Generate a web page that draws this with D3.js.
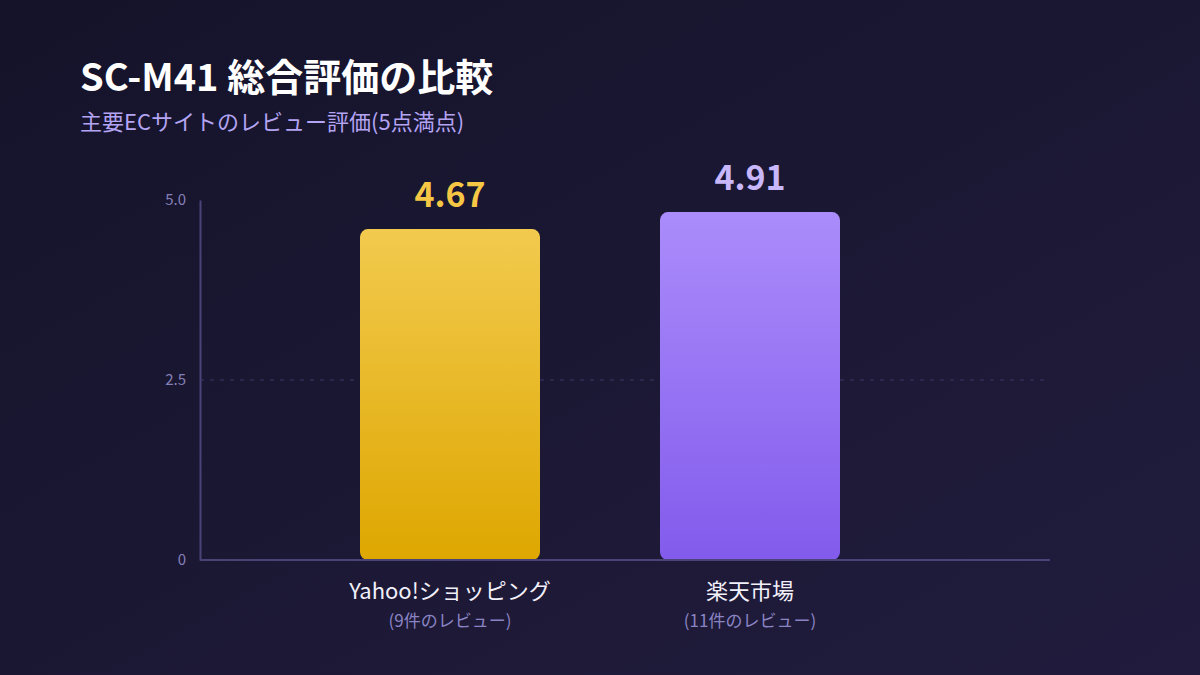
<!DOCTYPE html>
<html>
<head>
<meta charset="utf-8">
<script src="https://cdn.jsdelivr.net/npm/d3@7"></script>
<style>
  html, body { margin: 0; padding: 0; background: #17152b; }
  svg { display: block; font-family: "Noto Sans CJK JP", "Noto Sans", sans-serif; }
</style>
</head>
<body>
<svg id="chart" width="1200" height="675"></svg>
<script>
// Data
const sites = ["Yahoo!ショッピング", "楽天市場"];
const ratings = [4.67, 4.91];
const reviewCounts = ["(9件のレビュー)", "(11件のレビュー)"];
const tickValues = [0, 2.5, 5];
const tickLabels = ["0", "2.5", "5.0"];

const W = 1200, H = 675;
const svg = d3.select("#chart");
const defs = svg.append("defs");

// Background gradient
const bg = defs.append("linearGradient").attr("id", "bg")
  .attr("x1", "0").attr("y1", "0").attr("x2", "1").attr("y2", "1");
bg.append("stop").attr("offset", "0%").attr("stop-color", "#15132a");
bg.append("stop").attr("offset", "100%").attr("stop-color", "#211c3d");
svg.append("rect").attr("width", W).attr("height", H).attr("fill", "url(#bg)");

// Bar gradients
const barColors = [
  { id: "gYahoo", top: "#f2ca4e", bottom: "#dea700", label: "#f5c744" },
  { id: "gRakuten", top: "#ab8cfb", bottom: "#825bec", label: "#c8b8fb" }
];
barColors.forEach(c => {
  const g = defs.append("linearGradient").attr("id", c.id)
    .attr("x1", "0").attr("y1", "0").attr("x2", "0").attr("y2", "1");
  g.append("stop").attr("offset", "0%").attr("stop-color", c.top);
  g.append("stop").attr("offset", "100%").attr("stop-color", c.bottom);
});

// Title
svg.append("text")
  .attr("x", 80).attr("y", 91)
  .attr("font-size", "38px").attr("font-weight", "bold")
  .attr("fill", "#ffffff")
  .text("SC-M41 総合評価の比較");

svg.append("text")
  .attr("x", 80).attr("y", 130)
  .attr("font-size", "22px")
  .attr("fill", "#b3a4f4")
  .text("主要ECサイトのレビュー評価(5点満点)");

// Scales
const margin = { left: 200, right: 1050, top: 200, bottom: 560 };

const xScale = d3.scaleBand()
  .domain(sites)
  .range([300, 900])
  .paddingInner(0.4)
  .paddingOuter(0.2);

const yScale = d3.scaleLinear()
  .domain([0, 5])
  .range([margin.bottom, margin.top]);

// bars end a little short of the axis scale
const barScale = d3.scaleLinear()
  .domain([0, 5.08])
  .range([margin.bottom, margin.top]);

// Gridline at 2.5
svg.append("line")
  .attr("x1", margin.left).attr("x2", 1045)
  .attr("y1", yScale(2.5)).attr("y2", yScale(2.5))
  .attr("stroke", "#3c3663").attr("stroke-width", 1)
  .attr("stroke-dasharray", "4,6");

// Y axis
const yAxis = svg.append("g")
  .attr("transform", `translate(${margin.left},0)`)
  .call(d3.axisLeft(yScale).tickValues(tickValues)
    .tickFormat((d, i) => tickLabels[i]).tickSize(0).tickPadding(14));
yAxis.select(".domain").attr("stroke", "#4a4378").attr("stroke-width", 2);
yAxis.selectAll("text")
  .attr("fill", "#8680b8").attr("font-size", "15px")
  .style("font-family", "'Noto Sans CJK JP', 'Noto Sans', sans-serif");

// Bars
svg.selectAll("rect.bar")
  .data(ratings)
  .enter()
  .append("rect")
  .attr("class", "bar")
  .attr("x", (d, i) => xScale(sites[i]))
  .attr("y", d => barScale(d))
  .attr("width", xScale.bandwidth())
  .attr("height", d => margin.bottom - barScale(d))
  .attr("rx", 8).attr("ry", 8)
  .attr("fill", (d, i) => `url(#${barColors[i].id})`);

// X axis line
svg.append("line")
  .attr("x1", margin.left).attr("x2", margin.right)
  .attr("y1", margin.bottom).attr("y2", margin.bottom)
  .attr("stroke", "#4a4378").attr("stroke-width", 2);

// Value labels
svg.selectAll("text.value")
  .data(ratings)
  .enter()
  .append("text")
  .attr("class", "value")
  .attr("x", (d, i) => xScale(sites[i]) + xScale.bandwidth() / 2)
  .attr("y", d => barScale(d) - 22)
  .attr("text-anchor", "middle")
  .attr("font-size", "34px").attr("font-weight", "bold")
  .attr("fill", (d, i) => barColors[i].label)
  .text(d => d.toFixed(2));

// Category labels
svg.selectAll("text.cat")
  .data(sites)
  .enter()
  .append("text")
  .attr("class", "cat")
  .attr("x", d => xScale(d) + xScale.bandwidth() / 2)
  .attr("y", 599)
  .attr("text-anchor", "middle")
  .attr("font-size", "22px")
  .attr("fill", "#f2f0fb")
  .text(d => d);

svg.selectAll("text.count")
  .data(reviewCounts)
  .enter()
  .append("text")
  .attr("class", "count")
  .attr("x", (d, i) => xScale(sites[i]) + xScale.bandwidth() / 2)
  .attr("y", 627)
  .attr("text-anchor", "middle")
  .attr("font-size", "17px")
  .attr("fill", "#8b84c4")
  .text(d => d);
</script>
</body>
</html>
